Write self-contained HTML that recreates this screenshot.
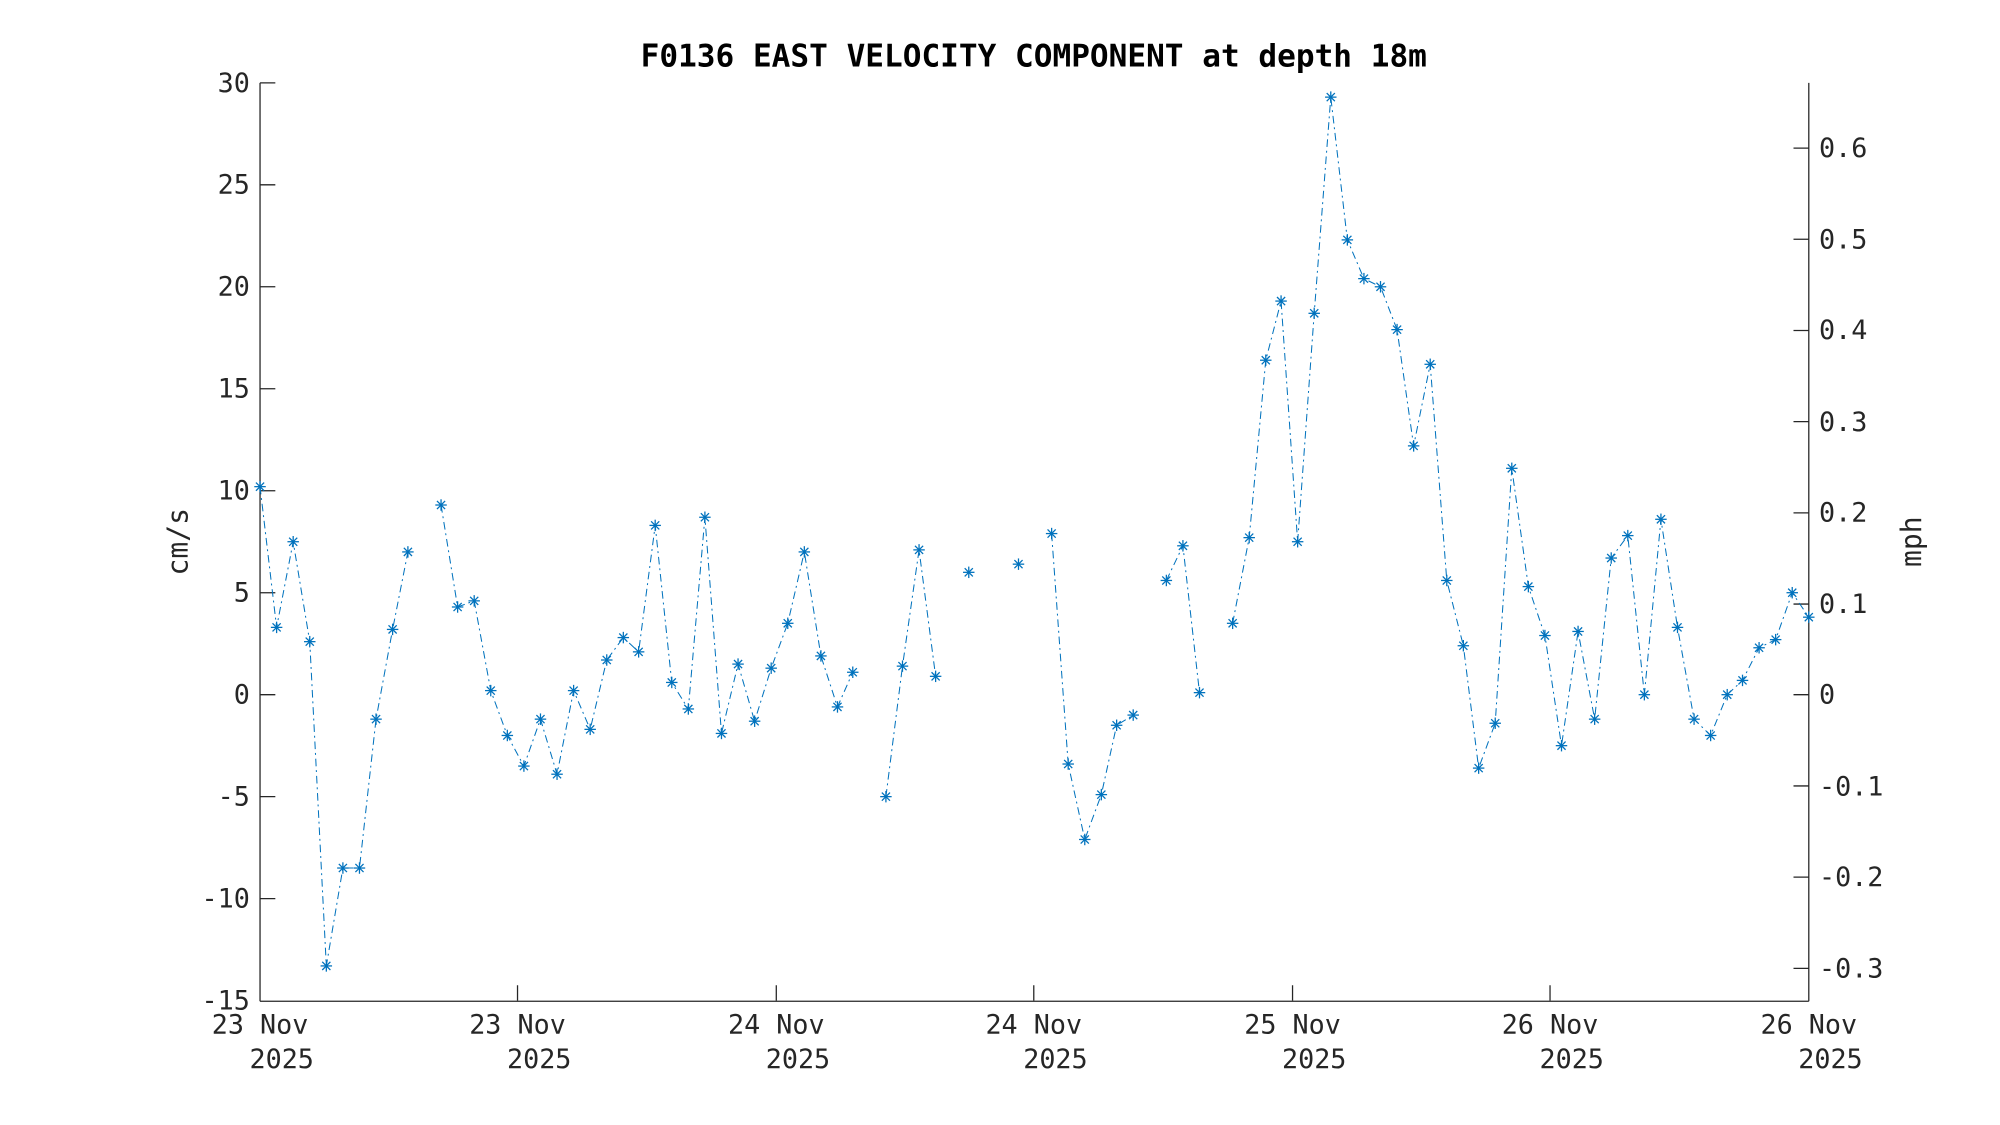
<!DOCTYPE html>
<html><head><meta charset="utf-8"><style>
html,body{margin:0;padding:0;background:#fff;width:2000px;height:1125px;overflow:hidden}
svg{display:block}
text{font-family:"DejaVu Sans Mono","Liberation Mono",monospace;fill:#262626}
</style></head><body>
<svg width="2000" height="1125" viewBox="0 0 1569 882.6" preserveAspectRatio="none" xmlns="http://www.w3.org/2000/svg">
<defs>
<g id="m" stroke="#0072BD" stroke-width="1" fill="none">
<line x1="-4.5" y1="0" x2="4.5" y2="0"/><line x1="0" y1="-4.5" x2="0" y2="4.5"/>
<line x1="-3.2" y1="-3.2" x2="3.2" y2="3.2"/><line x1="-3.2" y1="3.2" x2="3.2" y2="-3.2"/>
</g>
</defs>
<text x="811" y="52" font-size="24.4" font-weight="bold" text-anchor="middle" style="fill:#000">F0136 EAST VELOCITY COMPONENT at depth 18m</text>
<g stroke="#262626" stroke-width="1" fill="none">
<line x1="204" y1="65" x2="204" y2="785.5"/>
<line x1="1419" y1="65" x2="1419" y2="785.5"/>
<line x1="204" y1="785.5" x2="1419" y2="785.5"/>
<path d="M204 65h12M204 145h12M204 225h12M204 305h12M204 385h12M204 465h12M204 545h12M204 625h12M204 705h12"/>
<path d="M406 785v-12M609 785v-12M811 785v-12M1014 785v-12M1216 785v-12"/>
<path d="M1419 116.2h-12M1419 187.7h-12M1419 259.3h-12M1419 330.8h-12M1419 402.4h-12M1419 473.9h-12M1419 545h-12M1419 616.6h-12M1419 688.1h-12M1419 759.7h-12"/>
</g>
<g font-size="21" text-anchor="end">
<text x="196" y="72">30</text><text x="196" y="152">25</text><text x="196" y="232">20</text>
<text x="196" y="312">15</text><text x="196" y="392">10</text><text x="196" y="472">5</text>
<text x="196" y="552">0</text><text x="196" y="632">-5</text><text x="196" y="712">-10</text><text x="196" y="792">-15</text>
</g>
<g font-size="21">
<text x="1427" y="123">0.6</text><text x="1427" y="195">0.5</text><text x="1427" y="266">0.4</text>
<text x="1427" y="338">0.3</text><text x="1427" y="409">0.2</text><text x="1427" y="481">0.1</text>
<text x="1427" y="552">0</text><text x="1427" y="624">-0.1</text><text x="1427" y="695">-0.2</text><text x="1427" y="767">-0.3</text>
</g>
<g font-size="21" text-anchor="middle">
<text x="204" y="811">23 Nov</text><text x="221" y="838">2025</text>
<text x="406" y="811">23 Nov</text><text x="423" y="838">2025</text>
<text x="609" y="811">24 Nov</text><text x="626" y="838">2025</text>
<text x="811" y="811">24 Nov</text><text x="828" y="838">2025</text>
<text x="1014" y="811">25 Nov</text><text x="1031" y="838">2025</text>
<text x="1216" y="811">26 Nov</text><text x="1233" y="838">2025</text>
<text x="1419" y="811">26 Nov</text><text x="1436" y="838">2025</text>
</g>
<text font-size="22" text-anchor="middle" transform="translate(147,425) rotate(-90)">cm/s</text>
<text font-size="22" text-anchor="middle" transform="translate(1507,425) rotate(-90)">mph</text>
<g id="plot"></g>
</svg>
<script>
var segs=[
[[204,10.2],[217,3.3],[230,7.5],[243,2.6],[256,-13.3],[269,-8.5],[282,-8.5],[295,-1.2],[308,3.2],[320,7.0]],
[[346,9.3],[359,4.3],[372,4.6],[385,0.2],[398,-2.0],[411,-3.5],[424,-1.2],[437,-3.9],[450,0.2],[463,-1.7],[476,1.7],[489,2.8],[501,2.1],[514,8.3],[527,0.6],[540,-0.7],[553,8.7],[566,-1.9],[579,1.5],[592,-1.3],[605,1.3],[618,3.5],[631,7.0],[644,1.9],[657,-0.6],[669,1.1]],
[[695,-5.0],[708,1.4],[721,7.1],[734,0.9]],
[[760,6.0]],
[[799,6.4]],
[[825,7.9],[838,-3.4],[851,-7.1],[864,-4.9],[876,-1.5],[889,-1.0]],
[[915,5.6],[928,7.3],[941,0.1]],
[[967,3.5],[980,7.7],[993,16.4],[1005,19.3],[1018,7.5],[1031,18.7],[1044,29.3],[1057,22.3],[1070,20.4],[1083,20.0],[1096,17.9],[1109,12.2],[1122,16.2],[1135,5.6],[1148,2.4],[1160,-3.6],[1173,-1.4],[1186,11.1],[1199,5.3],[1212,2.9],[1225,-2.5],[1238,3.1],[1251,-1.2],[1264,6.7],[1277,7.8],[1290,0.0],[1303,8.6],[1316,3.3],[1329,-1.2],[1342,-2.0],[1355,0.0],[1367,0.7],[1380,2.3],[1393,2.7],[1406,5.0],[1419,3.8]]
];
var g=document.getElementById("plot"),h="";
segs.forEach(function(s){
 if(s.length>1){h+='<path d="M'+s.map(function(p){return p[0]+' '+(545-16*p[1]).toFixed(1)}).join(' L')+'" fill="none" stroke="#0072BD" stroke-width="0.8" stroke-dasharray="6 3 1.5 3"/>';}
});
segs.forEach(function(s){s.forEach(function(p){h+='<use href="#m" x="'+p[0]+'" y="'+(545-16*p[1]).toFixed(1)+'"/>';});});
g.innerHTML=h;
</script>
</body></html>
